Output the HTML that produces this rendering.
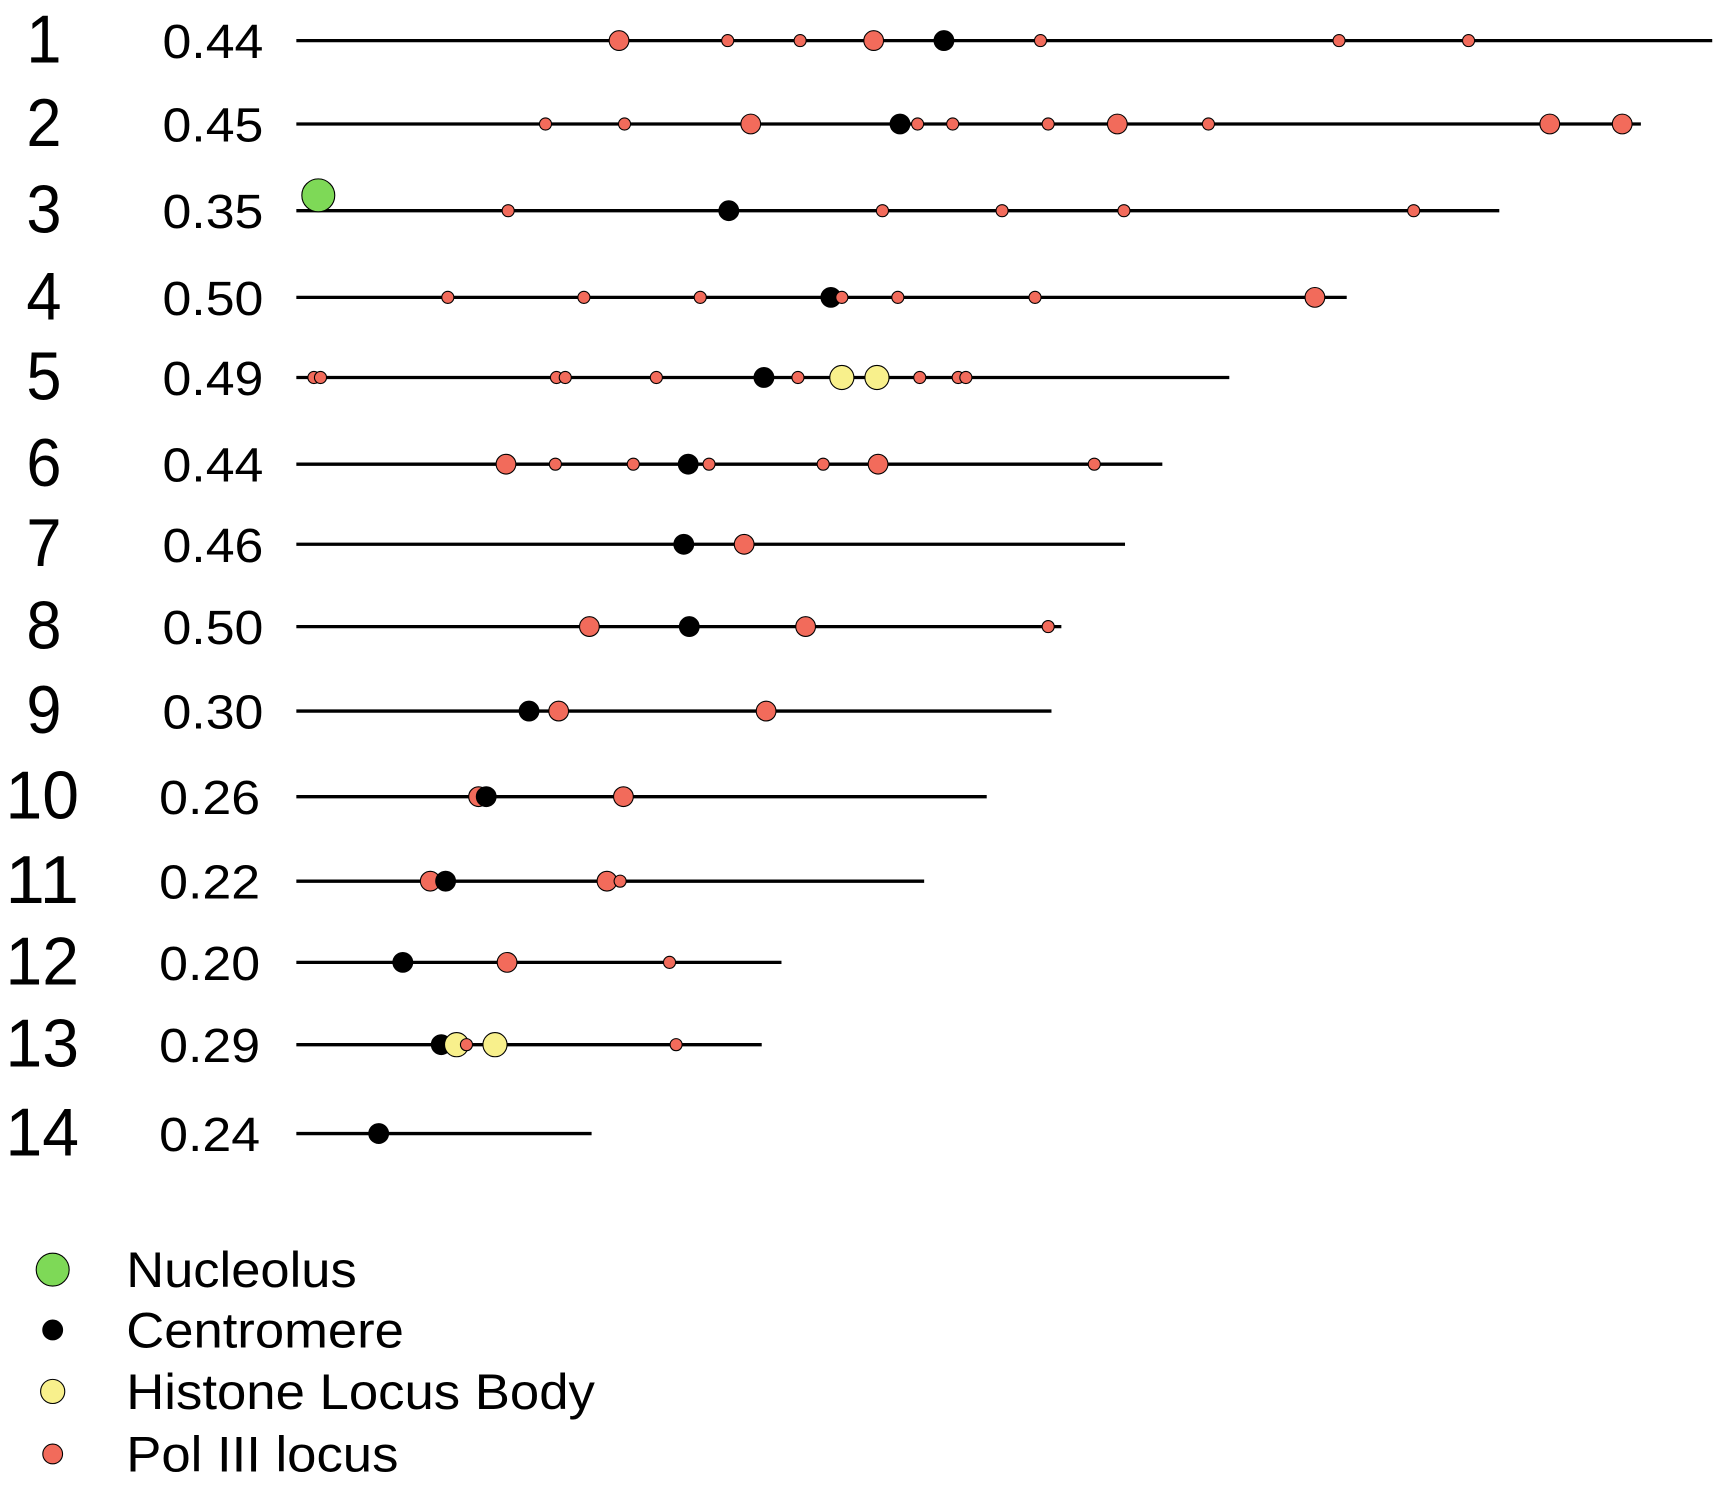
<!DOCTYPE html>
<html><head><meta charset="utf-8"><style>
html,body{margin:0;padding:0;background:#fff;}
svg{display:block;}
text{font-family:"Liberation Sans",Arial,sans-serif;fill:#000;}
</style></head><body>
<svg id="chart" width="1721" height="1488" viewBox="0 0 1568 1356" preserveAspectRatio="none" xmlns="http://www.w3.org/2000/svg">
<g id="rows"></g>
<g id="legend"></g>
</svg>
<script>
const chromosomes = ["1","2","3","4","5","6","7","8","9","10","11","12","13","14"];
const scores = ["0.44","0.45","0.35","0.50","0.49","0.44","0.46","0.50","0.30","0.26","0.22","0.20","0.29","0.24"];
const lengths = [1290,1225,1096,957,850,789,755,697,688,629,572,442,424,269];
const rowY = [37,113,192,271,344,423,496,571,648,726,803,877,952,1033];
// features: [position, type] — P: large Pol III, p: small Pol III, C: centromere, H: histone, N: nucleolus
const features = [
 [[294,"P"],[393,"p"],[459,"p"],[526,"P"],[590,"C"],[678,"p"],[950,"p"],[1068,"p"]],
 [[227,"p"],[299,"p"],[414,"P"],[550,"C"],[566,"p"],[598,"p"],[685,"p"],[748,"P"],[831,"p"],[1142,"P"],[1208,"P"]],
 [[20,"N"],[193,"p"],[394,"C"],[534,"p"],[643,"p"],[754,"p"],[1018,"p"]],
 [[138,"p"],[262,"p"],[368,"p"],[487,"C"],[497,"p"],[548,"p"],[673,"p"],[928,"P"]],
 [[16,"p"],[22,"p"],[237,"p"],[245,"p"],[328,"p"],[426,"C"],[457,"p"],[497,"H"],[529,"H"],[568,"p"],[603,"p"],[610,"p"]],
 [[191,"P"],[236,"p"],[307,"p"],[357,"C"],[376,"p"],[480,"p"],[530,"P"],[727,"p"]],
 [[353,"C"],[408,"P"]],
 [[267,"P"],[358,"C"],[464,"P"],[685,"p"]],
 [[212,"C"],[239,"P"],[428,"P"]],
 [[166,"P"],[173,"C"],[298,"P"]],
 [[122,"P"],[136,"C"],[283,"P"],[295,"p"]],
 [[97,"C"],[192,"P"],[340,"p"]],
 [[132,"C"],[146,"H"],[155,"p"],[181,"H"],[346,"p"]],
 [[75,"C"]]
];
const X0 = 270;
function xScale(v){ return X0 + v; }
const style = {
 P:{r:9,fill:"#f26b5b"}, p:{r:5.5,fill:"#f26b5b"}, C:{r:9,fill:"#000"},
 H:{r:11,fill:"#f8f08c"}, N:{r:15,fill:"#7ed957"}
};
const NS="http://www.w3.org/2000/svg";
const rows=document.getElementById("rows");
function mk(tag,attrs,parent){const e=document.createElementNS(NS,tag);for(const k in attrs)e.setAttribute(k,attrs[k]);parent.appendChild(e);return e;}
chromosomes.forEach((c,i)=>{
 const y=rowY[i];
 const g=mk("g",{},rows);
 
 
 const two=c.length>1;
 const t=mk("text",{x:two?5:24,y:y+20,"font-size":62,textLength:two?67:32,lengthAdjust:"spacingAndGlyphs"},g);
 t.textContent=c;
 
 
 const s=mk("text",{x:two?145:148,y:y+16,"font-size":44,textLength:92,lengthAdjust:"spacingAndGlyphs"},g);
 s.textContent=scores[i];
 
 
 const l=mk("line",{x1:xScale(0),x2:xScale(lengths[i]),y1:y,y2:y,stroke:"#000","stroke-width":3},g);
 
 
 features[i].forEach(f=>{
  const st=style[f[1]];
  const cy = f[1]==="N" ? y-14 : y;
  const ci=mk("circle",{cx:xScale(f[0]),cy:cy,r:st.r,fill:st.fill,stroke:"#000","stroke-width":1},g);
  
  
 });
});
const legendLabels=["Nucleolus","Centromere","Histone Locus Body","Pol III locus"];
const legendWidths=[210,253,427,248];
const legendTypes=["N","C","H","p"];
const legendY=[1157,1212,1268,1325];
const leg=document.getElementById("legend");
legendLabels.forEach((lab,i)=>{
 const st=style[legendTypes[i]];
 const r = legendTypes[i]==="p"?9:legendTypes[i]==="C"?9:st.r;
 const c=mk("circle",{cx:48,cy:legendY[i],r:r,fill:st.fill,stroke:"#000","stroke-width":1},leg);
 
 
 const t=mk("text",{x:115,y:legendY[i]+16,"font-size":46,textLength:legendWidths[i],lengthAdjust:"spacingAndGlyphs"},leg);
 t.textContent=lab;
 
 
});
</script>
</body></html>
